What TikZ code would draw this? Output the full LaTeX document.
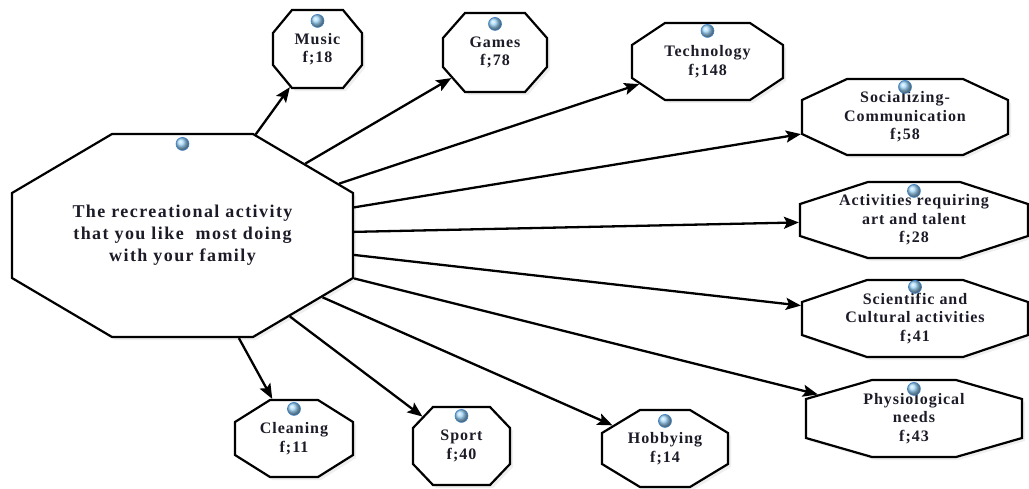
\documentclass[tikz,border=0pt]{standalone}
\usepackage{fontspec}
\setmainfont{Liberation Serif}
\usepackage{tikz}
\usetikzlibrary{arrows.meta,shapes.misc,shadows}
\newfontfamily\lblfont[LetterSpace=6]{Liberation Serif}
\newfontfamily\hubfont[LetterSpace=8]{Liberation Serif}
\definecolor{beadBlue}{RGB}{160,215,252}
\definecolor{beadRim}{RGB}{60,130,200}
\definecolor{lblInk}{RGB}{28,28,40}
% text box that fixes the chamfer corner of the octagon
\newcommand{\octlabel}[3]{\parbox[c][#2][c]{#1}{\centering #3}}

\begin{document}
\begin{tikzpicture}[x=1pt,y=-1pt,
  octa/.style={chamfered rectangle, chamfered rectangle xsep=1pt, draw=black, line width=2.2pt, fill=white, inner sep=0pt, text=lblInk,
    font=\lblfont\bfseries\fontsize{16}{18.5}\selectfont,
    drop shadow={opacity=0.12,shadow xshift=3pt,shadow yshift=-3pt}},
  link/.style={-{Stealth[length=15pt,width=12pt,inset=3pt]}, line width=2.3pt},
  bead/.style={ball color=beadBlue, draw=beadRim, line width=0.6pt}]
\useasboundingbox[fill=white] (0,0) rectangle (1029,488);

% centre
\node[octa, chamfered rectangle angle=59.46, chamfered rectangle ysep=58.41pt,
  font=\hubfont\bfseries\fontsize{18}{22}\selectfont] (hub) at (182.5,235.5)
  {\octlabel{339pt}{86.18pt}{The recreational activity\\that you like~ most doing\\with your family}};

% activities
\node[octa, chamfered rectangle angle=39.56, chamfered rectangle ysep=21.79pt] (music) at (317.5,49) {\octlabel{87pt}{34.42pt}{Music\\f;18}};
\node[octa, chamfered rectangle angle=41.35, chamfered rectangle ysep=23.86pt] (games) at (495,52.5) {\octlabel{102pt}{31.28pt}{Games\\f;78}};
\node[octa, chamfered rectangle angle=56.31, chamfered rectangle ysep=21.33pt] (tech) at (707.5,61.5) {\octlabel{149pt}{34.33pt}{Technology\\f;148}};
\node[octa, chamfered rectangle angle=64.98, chamfered rectangle ysep=20.53pt] (social) at (905,117) {\octlabel{204pt}{34.93pt}{Socializing-\\Communication\\f;58}};
\node[octa, chamfered rectangle angle=72.07, chamfered rectangle ysep=21.68pt] (art) at (914,220) {\octlabel{226pt}{32.65pt}{Activities requiring\\art and talent\\f;28}};
\node[octa, chamfered rectangle angle=71.30, chamfered rectangle ysep=21.66pt] (science) at (915,318.5) {\octlabel{224pt}{33.68pt}{Scientific and\\Cultural activities\\f;41}};
\node[octa, chamfered rectangle angle=73.94, chamfered rectangle ysep=18.71pt] (physio) at (914,418.5) {\octlabel{214pt}{39.58pt}{Physiological\\needs\\f;43}};
\node[octa, chamfered rectangle angle=58.82, chamfered rectangle ysep=22.39pt] (hobby) at (665,448.5) {\octlabel{124pt}{32.21pt}{Hobbying\\f;14}};
\node[octa, chamfered rectangle angle=43.60, chamfered rectangle ysep=19.95pt] (sport) at (461.5,446) {\octlabel{95pt}{38.1pt}{Sport\\f;40}};
\node[octa, chamfered rectangle angle=57.85, chamfered rectangle ysep=21.37pt] (clean) at (294,438.5) {\octlabel{116pt}{34.26pt}{Cleaning\\f;11}};

% arrows
\draw[link] (hub) -- (music);
\draw[link] (hub) -- (games);
\draw[link] (hub) -- (tech);
\draw[link] (hub) -- (social);
\draw[link] (hub) -- (art);
\draw[link] (hub) -- (science);
\draw[link] (hub) -- (physio);
\draw[link] (hub) -- (hobby);
\draw[link] (hub) -- (sport);
\draw[link] (hub) -- (clean);

% beads
\shadedraw[bead] ([yshift=-11pt]hub.north) circle (6.5pt);
\shadedraw[bead] ([yshift=-12pt]music.north) circle (6.5pt);
\shadedraw[bead] ([yshift=-12pt]games.north) circle (6.5pt);
\shadedraw[bead] ([yshift=-9pt]tech.north) circle (6.5pt);
\shadedraw[bead] ([yshift=-9pt]social.north) circle (6.5pt);
\shadedraw[bead] ([yshift=-10pt]art.north) circle (6.5pt);
\shadedraw[bead] ([yshift=-8pt]science.north) circle (6.5pt);
\shadedraw[bead] ([yshift=-10pt]physio.north) circle (6.5pt);
\shadedraw[bead] ([yshift=-12pt]hobby.north) circle (6.5pt);
\shadedraw[bead] ([yshift=-10pt]sport.north) circle (6.5pt);
\shadedraw[bead] ([yshift=-10pt]clean.north) circle (6.5pt);
\end{tikzpicture}
\end{document}
